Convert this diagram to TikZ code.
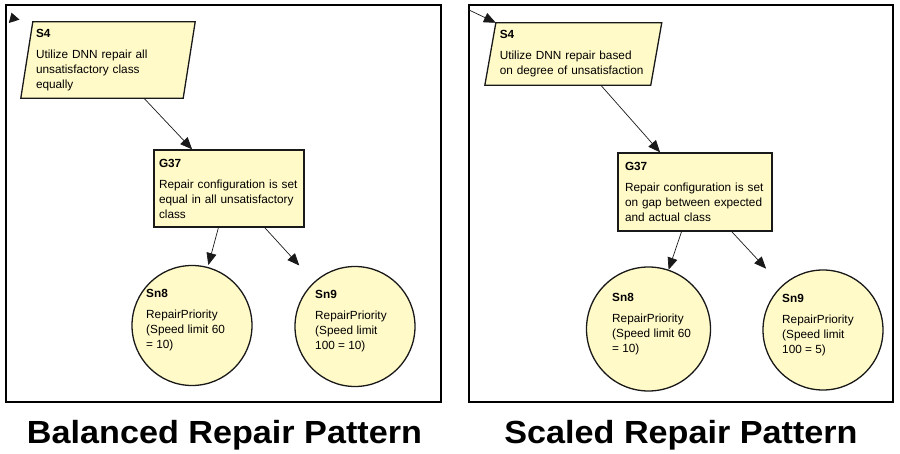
\documentclass[tikz,border=0pt]{standalone}
\usepackage{fontspec}
\setmainfont{Liberation Sans}
\usetikzlibrary{arrows.meta,backgrounds}

\definecolor{gsnfill}{RGB}{255,250,200}
\definecolor{gsnline}{RGB}{25,25,25}

\tikzset{
  gsntext/.style={font=\fontsize{11.8}{15}\selectfont, align=left, inner sep=0pt},
  goalbox/.style={draw=gsnline, line width=1.3pt, fill=gsnfill, rectangle, inner sep=0pt, gsntext},
  stratbox/.style={draw=none, rectangle, inner sep=0pt, gsntext},
  stratshape/.style={draw=gsnline, line width=1.3pt, fill=gsnfill, line join=miter},
  solcircle/.style={draw=gsnline, line width=1.3pt, fill=gsnfill, circle, inner sep=0pt},
  link/.style={draw=gsnline, line width=0.7pt, -{Triangle[length=12pt,width=10pt]}},
  panel/.style={draw=black, line width=2pt},
  caption/.style={font=\fontsize{32}{36}\selectfont\bfseries, inner sep=0pt}
}

% title line of a GSN element, followed by a small gap
\newcommand\gsntitle[1]{\textbf{#1}\\[6pt]}

\begin{document}
\begin{tikzpicture}[x=1pt,y=-1pt]
\useasboundingbox (0,0) rectangle (900,454);

% ---------- panels ----------
\draw[panel] (6,5) rectangle (441,402);
\draw[panel] (469,5) rectangle (893,402);

% ---------- balanced pattern ----------
\node[stratbox, minimum width=162pt, minimum height=76pt, text width=144pt] (s4L) at (108,60)
  {\gsntitle{S4}Utilize DNN repair all\\unsatisfactory class\\equally};
\begin{scope}[on background layer]
  \path[stratshape] ([xshift=6pt]s4L.north west) -- ([xshift=6pt]s4L.north east)
    -- ([xshift=-6pt]s4L.south east) -- ([xshift=-6pt]s4L.south west) -- cycle;
\end{scope}

\node[goalbox, minimum width=150pt, minimum height=77pt, text width=140pt] (g37L) at (229,188.5)
  {\gsntitle{G37}Repair configuration is set\\equal in all unsatisfactory\\class};

\node[solcircle, minimum size=120pt] (sn8L) at (192,325.5) {};
\node[gsntext, anchor=west] (sn8Lt) at ([xshift=-46pt,yshift=5pt]sn8L.center)
  {\gsntitle{Sn8}RepairPriority\\(Speed limit 60\\= 10)};

\node[solcircle, minimum size=120pt] (sn9L) at (355,326.5) {};
\node[gsntext, anchor=west] (sn9Lt) at ([xshift=-40pt,yshift=5pt]sn9L.center)
  {\gsntitle{Sn9}RepairPriority\\(Speed limit\\100 = 10)};

\coordinate (tailL) at (14.2,21.3);
\coordinate (tipL) at (11.5,12.7);
\draw[draw=gsnline, line width=0.7pt, -{Triangle[length=9pt,width=11pt]}] (tailL) -- (tipL);

\draw[link] (s4L) -- (g37L);
\draw[link, shorten >=2pt] (g37L) -- (sn8L);
\draw[link, shorten >=22pt] (g37L) -- (sn9L);

\node[caption, anchor=base] (capL) at (224.5,443) {\scalebox{1.068}[1]{Balanced Repair Pattern}};

% ---------- scaled pattern ----------
\node[stratbox, minimum width=165.5pt, minimum height=62pt, text width=147pt] (s4R) at (573.3,54)
  {\gsntitle{S4}Utilize DNN repair based\\on degree of unsatisfaction};
\begin{scope}[on background layer]
  \path[stratshape] ([xshift=5.5pt]s4R.north west) -- ([xshift=5.5pt]s4R.north east)
    -- ([xshift=-5.5pt]s4R.south east) -- ([xshift=-5.5pt]s4R.south west) -- cycle;
\end{scope}

\node[goalbox, minimum width=154pt, minimum height=78pt, text width=140pt] (g37R) at (695,192)
  {\gsntitle{G37}Repair configuration is set\\on gap between expected\\and actual class};

\node[solcircle, minimum size=124pt] (sn8R) at (648.5,329) {};
\node[gsntext, anchor=west] (sn8Rt) at ([xshift=-36.5pt,yshift=5pt]sn8R.center)
  {\gsntitle{Sn8}RepairPriority\\(Speed limit 60\\= 10)};

\node[solcircle, minimum size=120pt] (sn9R) at (823,330) {};
\node[gsntext, anchor=west] (sn9Rt) at ([xshift=-41pt,yshift=5pt]sn9R.center)
  {\gsntitle{Sn9}RepairPriority\\(Speed limit\\100 = 5)};

\coordinate (inR) at (468,9.5);
\draw[link] (inR) -- ([xshift=5.5pt]s4R.north west);

\draw[link] (s4R) -- (g37R);
\draw[link] (g37R) -- (sn8R);
\draw[link, shorten >=23pt] (g37R) -- (sn9R);

\node[caption, anchor=base] (capR) at (681,443) {\scalebox{1.068}[1]{Scaled Repair Pattern}};
\end{tikzpicture}
\end{document}
